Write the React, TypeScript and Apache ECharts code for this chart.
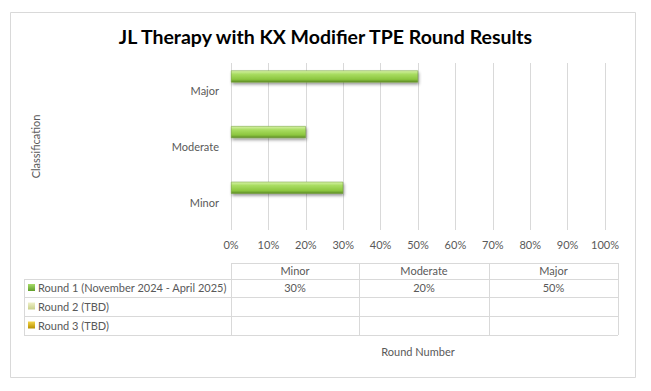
import React, { useEffect, useRef } from "react";
import * as echarts from "echarts";

const categories = ["Minor", "Moderate", "Major"];
const seriesNames = ["Round 1 (November 2024 - April 2025)", "Round 2 (TBD)", "Round 3 (TBD)"];
const round1 = [30, 20, 50];
const round2: (number | null)[] = [null, null, null];
const round3: (number | null)[] = [null, null, null];
const xTicks = { min: 0, max: 100, interval: 10 };

const FONT = "Lato";
const TXT = "#595959";
const GRID = "#d9d9d9";

const keyColors = [
  ["#a8dc6a", "#5f9e2a"],
  ["#eef0c8", "#c9d08a"],
  ["#f4d64a", "#b89000"],
];

export default function App() {
  const ref = useRef<HTMLDivElement>(null);
  useEffect(() => {
    if (!ref.current) return;
    const chart = echarts.init(ref.current, null, { renderer: "svg" });
    const allSeries = [round1, round2, round3];

    const colX = [231, 359, 489, 618];
    const rowY = [263, 279, 297, 316, 335];
    const leftX = 24;
    const graphics: any[] = [];
    graphics.push({
      type: "rect",
      shape: { x: 10.5, y: 12.5, width: 625, height: 365 },
      style: { fill: "none", stroke: GRID, lineWidth: 1 },
      silent: true,
    });
    const line = (x1: number, y1: number, x2: number, y2: number) => ({
      type: "line",
      shape: { x1, y1, x2, y2 },
      style: { stroke: GRID, lineWidth: 1 },
      silent: true,
    });
    graphics.push(line(colX[0], rowY[0] + 0.5, colX[3], rowY[0] + 0.5));
    for (let r = 1; r < rowY.length; r++) graphics.push(line(leftX, rowY[r] + 0.5, colX[3], rowY[r] + 0.5));
    graphics.push(line(leftX + 0.5, rowY[1], leftX + 0.5, rowY[4]));
    for (const x of colX) graphics.push(line(x + 0.5, rowY[0], x + 0.5, rowY[4]));
    categories.forEach((c, i) => {
      graphics.push({
        type: "text",
        x: (colX[i] + colX[i + 1]) / 2,
        y: (rowY[0] + rowY[1]) / 2 - 1,
        style: { text: c, fill: TXT, font: `11px ${FONT}`, align: "center", verticalAlign: "middle" },
        silent: true,
      });
    });
    seriesNames.forEach((name, r) => {
      const cy = (rowY[r + 1] + rowY[r + 2]) / 2 - 0.5;
      graphics.push({
        type: "rect",
        shape: { x: 28, y: cy - 3.5, width: 7, height: 7 },
        style: {
          fill: new echarts.graphic.LinearGradient(0, 0, 0, 1, [
            { offset: 0, color: keyColors[r][0] },
            { offset: 1, color: keyColors[r][1] },
          ]),
        },
        silent: true,
      });
      graphics.push({
        type: "text",
        x: 38,
        y: cy,
        style: { text: name, fill: TXT, font: `11px ${FONT}`, align: "left", verticalAlign: "middle" },
        silent: true,
      });
      allSeries[r].forEach((v, i) => {
        if (v == null) return;
        graphics.push({
          type: "text",
          x: (colX[i] + colX[i + 1]) / 2,
          y: cy,
          style: { text: `${v}%`, fill: TXT, font: `11px ${FONT}`, align: "center", verticalAlign: "middle" },
          silent: true,
        });
      });
    });

    const barStyle = (r: number) => ({
      color:
        r === 0
          ? new echarts.graphic.LinearGradient(0, 0, 0, 1, [
              { offset: 0, color: "#d8f2a8" },
              { offset: 0.3, color: "#a9dd62" },
              { offset: 0.75, color: "#8cc63f" },
              { offset: 1, color: "#5b8a24" },
            ])
          : keyColors[r][1],
      borderColor: r === 0 ? "#6f9c35" : keyColors[r][1],
      borderWidth: 0.5,
      shadowColor: "rgba(0,0,0,0.4)",
      shadowBlur: 3,
      shadowOffsetX: 1,
      shadowOffsetY: 2,
    });

    chart.setOption({
      animation: false,
      title: {
        text: "JL Therapy with KX Modifier TPE Round Results",
        left: "center",
        top: 21,
        textStyle: { fontFamily: FONT, fontSize: 19.5, fontWeight: "bold", color: "#000" },
      },
      grid: { left: 231, right: 46, top: 63, bottom: 161, containLabel: false },
      xAxis: {
        type: "value",
        min: xTicks.min,
        max: xTicks.max,
        interval: xTicks.interval,
        name: "Round Number",
        nameLocation: "middle",
        nameGap: 116,
        nameTextStyle: { fontFamily: FONT, fontSize: 11, color: TXT },
        axisLine: { show: false },
        axisTick: { show: false },
        axisLabel: { formatter: "{value}%", fontFamily: FONT, fontSize: 11, color: TXT, margin: 9 },
        splitLine: { show: true, lineStyle: { color: GRID, width: 1 } },
      },
      yAxis: {
        type: "category",
        data: categories,
        name: "Classification",
        nameLocation: "middle",
        nameRotate: 90,
        nameGap: 190,
        nameTextStyle: { fontFamily: FONT, fontSize: 11, color: TXT },
        axisLine: { show: false },
        axisTick: { show: false },
        axisLabel: { fontFamily: FONT, fontSize: 11, color: TXT, margin: 12 },
        splitLine: { show: false },
      },
      series: [round1, round2, round3].map((d, r) => ({
        type: "bar",
        name: seriesNames[r],
        data: d,
        barWidth: 12,
        barGap: "20%",
        itemStyle: barStyle(r),
      })),
      graphic: graphics,
    });
    return () => chart.dispose();
  }, []);
  return (
    <div
      ref={ref}
      style={{ position: "absolute", left: 0, top: 0, width: 651, height: 391, background: "#fff" }}
    />
  );
}
